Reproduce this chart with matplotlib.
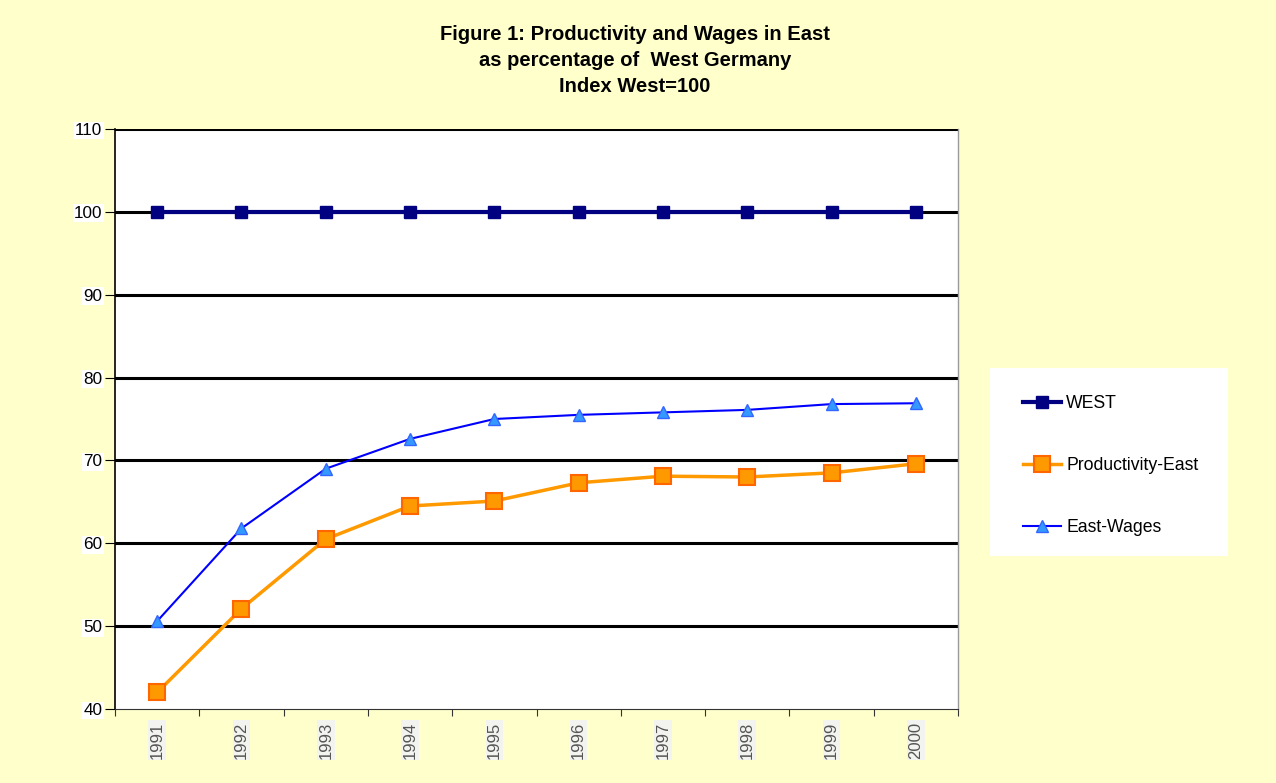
import matplotlib
matplotlib.use("Agg")
import matplotlib.pyplot as plt
from matplotlib.lines import Line2D

years = ["1991", "1992", "1993", "1994", "1995", "1996", "1997", "1998", "1999", "2000"]
west = [100, 100, 100, 100, 100, 100, 100, 100, 100, 100]
productivity_east = [42.0, 52.1, 60.5, 64.5, 65.1, 67.3, 68.1, 68.0, 68.5, 69.6]
east_wages = [50.6, 61.8, 69.0, 72.6, 75.0, 75.5, 75.8, 76.1, 76.8, 76.9]
y_ticks = [40, 50, 60, 70, 80, 90, 100, 110]

plt.rcParams['font.family'] = ['Liberation Sans', 'DejaVu Sans']

fig = plt.figure(figsize=(12.76, 7.83), dpi=100, facecolor='#FFFFCC')
ax = fig.add_axes([115/1276, 1 - 709/783, (958-115)/1276, (709-129)/783])
ax.set_facecolor('white')

x = list(range(len(years)))
ax.plot(x, west, color='#000080', lw=3, marker='s', ms=9, mfc='#000080', mec='#000080', zorder=5, label='WEST')
ax.plot(x, productivity_east, color='#FF9900', lw=2.5, marker='s', ms=12, mfc='#FF9900', mec='#FF6600', mew=1.5, zorder=4, label='Productivity-East')
ax.plot(x, east_wages, color='#0000FF', lw=1.5, marker='^', ms=9, mfc='#3399FF', mec='#3366FF', mew=1, zorder=4, label='East-Wages')

ax.set_xlim(-0.5, len(years) - 0.5)
ax.set_ylim(40, 110)
ax.set_yticks(y_ticks)
ax.set_yticklabels([str(v) for v in y_ticks], fontsize=12.3)
for lbl in ax.get_yticklabels():
    lbl.set_bbox(dict(facecolor='white', edgecolor='none', pad=1))
for v in y_ticks[1:]:
    ax.axhline(v, color='black', lw=2.2, zorder=1)

ax.set_xticks([i - 0.5 for i in range(len(years) + 1)])
ax.set_xticklabels([])
ax.tick_params(axis='x', which='major', length=5, direction='out', color='#333333')
ax.tick_params(axis='y', length=7, direction='out', color='black', pad=2)
ax.set_xticks(x, minor=True)
ax.set_xticklabels(years, minor=True, rotation=90, fontsize=12, color='#555555')
ax.tick_params(axis='x', which='minor', length=0, pad=9)
for lbl in ax.get_xticklabels(minor=True):
    lbl.set_bbox(dict(facecolor='#F3F3F0', edgecolor='none', pad=1))

ax.spines['left'].set_color('black')
ax.spines['left'].set_linewidth(1.2)
ax.spines['bottom'].set_color('#333333')
ax.spines['right'].set_color('#999999')
ax.spines['right'].set_linewidth(1)
ax.spines['top'].set_visible(False)

title_lines = ["Figure 1: Productivity and Wages in East", "as percentage of  West Germany", "Index West=100"]
for t, yp in zip(title_lines, [35, 61, 86]):
    fig.text(635/1276, 1 - yp/783, t, ha='center', va='center', fontsize=14.5, fontweight='bold')

# legend box
lax = fig.add_axes([990/1276, 1 - 556/783, (1228-990)/1276, (556-368)/783])
lax.set_facecolor('white')
lax.set_xlim(990, 1228)
lax.set_ylim(556, 368)
lax.axis('off')
lax.add_patch(plt.Rectangle((990, 368), 238, 188, facecolor='white', edgecolor='none'))
names = ['WEST', 'Productivity-East', 'East-Wages']
ys = [402, 464, 526]
styles = [dict(color='#000080', lw=3, marker='s', ms=8, mfc='#000080', mec='#000080'),
          dict(color='#FF9900', lw=2.5, marker='s', ms=11, mfc='#FF9900', mec='#FF6600', mew=1.5),
          dict(color='#0000FF', lw=1.5, marker='^', ms=8, mfc='#3399FF', mec='#3366FF')]
for n, yv, st in zip(names, ys, styles):
    lax.add_line(Line2D([1023, 1061], [yv, yv], color=st['color'], lw=st['lw']))
    lax.plot([1042], [yv], ls='none', **{k: v for k, v in st.items() if k not in ('color', 'lw')})
    lax.text(1066, yv + 1, n, va='center', ha='left', fontsize=12.7)

fig.savefig('out.png', dpi=100, facecolor=fig.get_facecolor())
